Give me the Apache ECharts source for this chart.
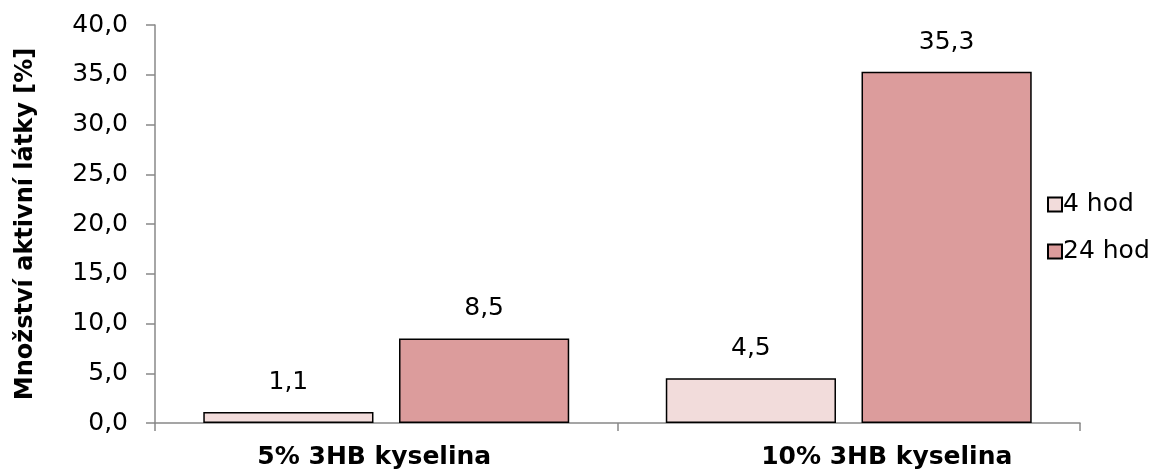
<!DOCTYPE html>
<html>
<head>
<meta charset="utf-8">
<script src="https://cdn.jsdelivr.net/npm/echarts@6/dist/echarts.min.js"></script>
<style>
  html, body { margin: 0; padding: 0; background: #fff; }
  #main { width: 1149px; height: 475px; }
</style>
</head>
<body>
<div id="main"></div>
<script>
const categories = ["5% 3HB kyselina", "10% 3HB kyselina"];
const seriesNames = ["4 hod", "24 hod"];
const values4h = [1.1, 4.5];
const values24h = [8.5, 35.3];
const yTicks = [0, 5, 10, 15, 20, 25, 30, 35, 40];

const fmt = v => Number(v).toFixed(1).replace(".", ",");
const font = "DejaVu Sans, sans-serif";

const chart = echarts.init(document.getElementById("main"));

// category labels in the original sit a little off-centre
const catStyle = { fontSize: 25, fontWeight: "bold", color: "#000", fontFamily: font };

const option = {
  animation: false,
  textStyle: { fontFamily: font },
  grid: { left: 155, right: 69, top: 25, bottom: 52 },
  legend: {
    orient: "vertical",
    left: 1042,
    top: 187,
    itemWidth: 14,
    itemHeight: 14,
    itemGap: 22,
    icon: "rect",
    textStyle: { fontSize: 25, color: "#000", fontFamily: font, padding: [0, 0, 0, -4] },
    data: seriesNames
  },
  xAxis: {
    type: "category",
    data: categories,
    axisLine: { lineStyle: { color: "#888", width: 1.5 } },
    axisTick: { show: true, length: 8, lineStyle: { color: "#888", width: 1.5 } },
    axisLabel: {
      margin: 22,
      formatter: (v, i) => (i === 0 ? "{a|" + v + "}" : "{b|" + v + "}"),
      rich: {
        a: Object.assign({ padding: [0, 24, 0, 0] }, catStyle),
        b: Object.assign({ padding: [0, 0, 0, 76] }, catStyle)
      }
    }
  },
  yAxis: {
    type: "value",
    min: yTicks[0],
    max: yTicks[yTicks.length - 1],
    interval: 5,
    name: "Množství aktivní látky [%]",
    nameLocation: "middle",
    nameGap: 117,
    nameTextStyle: { fontSize: 24, fontWeight: "bold", color: "#000" },
    axisLine: { show: true, lineStyle: { color: "#888", width: 1.5 } },
    axisTick: { show: true, length: 9, lineStyle: { color: "#888", width: 1.5 } },
    splitLine: { show: false },
    axisLabel: { fontSize: 25, color: "#000", margin: 27, formatter: fmt }
  },
  series: [
    {
      name: seriesNames[0],
      type: "bar",
      data: values4h,
      barWidth: "36.8%",
      barGap: "15%",
      itemStyle: { color: "#f2dcdb", borderColor: "#000", borderWidth: 1.5 },
      label: { show: true, position: "top", distance: 17, fontSize: 25, color: "#000", formatter: p => fmt(p.value) }
    },
    {
      name: seriesNames[1],
      type: "bar",
      data: values24h,
      barWidth: "36.8%",
      barGap: "15%",
      itemStyle: { color: "#dc9c9c", borderColor: "#000", borderWidth: 1.5 },
      label: { show: true, position: "top", distance: 17, fontSize: 25, color: "#000", formatter: p => fmt(p.value) }
    }
  ]
};

chart.setOption(option);
</script>
</body>
</html>
